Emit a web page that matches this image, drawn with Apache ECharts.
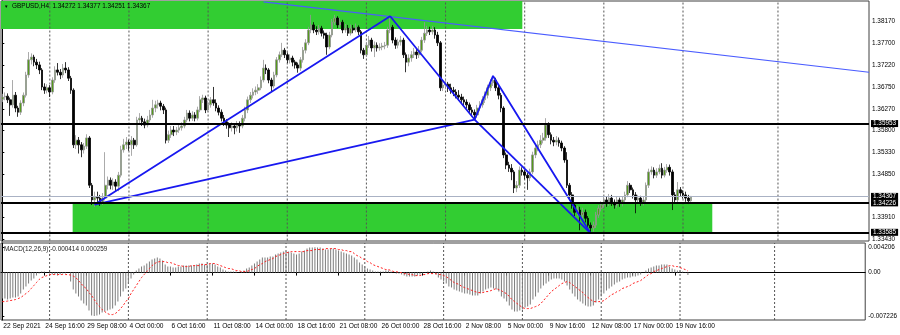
<!DOCTYPE html>
<html><head><meta charset="utf-8">
<script src="https://cdn.jsdelivr.net/npm/echarts@6/dist/echarts.min.js"></script>
<style>html,body{margin:0;padding:0;background:#fff}#c{width:900px;height:335px}</style>
</head><body><div id="c"></div><script>
// ---- data (GBPUSD H4, one value per bar) ----
const opens=[1.3648,1.3653,1.3655,1.3647,1.3636,1.3657,1.3629,1.3620,1.3640,1.3657,
1.3701,1.3734,1.3740,1.3729,1.3723,1.3712,1.3675,1.3668,1.3673,1.3664,
1.3690,1.3712,1.3707,1.3701,1.3716,1.3712,1.3694,1.3668,1.3549,1.3559,
1.3549,1.3538,1.3546,1.3564,1.3461,1.3429,1.3435,1.3433,1.3424,1.3433,
1.3461,1.3472,1.3461,1.3468,1.3459,1.3483,1.3538,1.3549,1.3555,1.3549,
1.3559,1.3549,1.3603,1.3607,1.3599,1.3592,1.3603,1.3614,1.3629,1.3636,
1.3640,1.3633,1.3625,1.3559,1.3571,1.3581,1.3577,1.3581,1.3586,1.3590,
1.3603,1.3618,1.3607,1.3614,1.3607,1.3625,1.3647,1.3651,1.3625,1.3636,
1.3647,1.3640,1.3629,1.3620,1.3607,1.3599,1.3592,1.3586,1.3590,1.3586,
1.3594,1.3590,1.3607,1.3625,1.3647,1.3657,1.3664,1.3668,1.3673,1.3690,
1.3716,1.3712,1.3690,1.3677,1.3701,1.3734,1.3745,1.3755,1.3745,1.3734,
1.3738,1.3729,1.3723,1.3716,1.3734,1.3755,1.3771,1.3799,1.3810,1.3799,
1.3795,1.3803,1.3792,1.3788,1.3762,1.3788,1.3816,1.3825,1.3810,1.3816,
1.3799,1.3803,1.3792,1.3803,1.3799,1.3805,1.3795,1.3755,1.3745,1.3766,
1.3777,1.3760,1.3766,1.3760,1.3762,1.3764,1.3766,1.3799,1.3805,1.3777,
1.3766,1.3773,1.3777,1.3745,1.3729,1.3738,1.3745,1.3751,1.3745,1.3755,
1.3777,1.3792,1.3799,1.3795,1.3799,1.3788,1.3771,1.3673,1.3679,1.3681,
1.3673,1.3668,1.3664,1.3657,1.3653,1.3647,1.3642,1.3636,1.3625,1.3620,
1.3614,1.3629,1.3636,1.3647,1.3657,1.3673,1.3684,1.3690,1.3673,1.3657,
1.3629,1.3527,1.3505,1.3498,1.3490,1.3455,1.3461,1.3494,1.3490,1.3483,
1.3477,1.3490,1.3527,1.3542,1.3549,1.3559,1.3564,1.3592,1.3571,1.3559,
1.3555,1.3559,1.3553,1.3542,1.3516,1.3461,1.3440,1.3418,1.3402,1.3407,
1.3396,1.3402,1.3389,1.3374,1.3368,1.3374,1.3396,1.3411,1.3418,1.3429,
1.3422,1.3433,1.3424,1.3418,1.3429,1.3422,1.3429,1.3440,1.3461,1.3451,
1.3440,1.3429,1.3433,1.3424,1.3429,1.3461,1.3490,1.3494,1.3483,1.3490,
1.3498,1.3483,1.3494,1.3500,1.3490,1.3440,1.3429,1.3451,1.3444,1.3440,
1.3433,1.34272];
const closes=[1.3653,1.3655,1.3647,1.3636,1.3657,1.3629,1.3620,1.3640,1.3657,1.3701,
1.3734,1.3740,1.3729,1.3723,1.3712,1.3675,1.3668,1.3673,1.3664,1.3690,
1.3712,1.3707,1.3701,1.3716,1.3712,1.3694,1.3668,1.3549,1.3559,1.3549,
1.3538,1.3546,1.3564,1.3461,1.3429,1.3435,1.3433,1.3424,1.3433,1.3461,
1.3472,1.3461,1.3468,1.3459,1.3483,1.3538,1.3549,1.3555,1.3549,1.3559,
1.3549,1.3603,1.3607,1.3599,1.3592,1.3603,1.3614,1.3629,1.3636,1.3640,
1.3633,1.3625,1.3559,1.3571,1.3581,1.3577,1.3581,1.3586,1.3590,1.3603,
1.3618,1.3607,1.3614,1.3607,1.3625,1.3647,1.3651,1.3625,1.3636,1.3647,
1.3640,1.3629,1.3620,1.3607,1.3599,1.3592,1.3586,1.3590,1.3586,1.3594,
1.3590,1.3607,1.3625,1.3647,1.3657,1.3664,1.3668,1.3673,1.3690,1.3716,
1.3712,1.3690,1.3677,1.3701,1.3734,1.3745,1.3755,1.3745,1.3734,1.3738,
1.3729,1.3723,1.3716,1.3734,1.3755,1.3771,1.3799,1.3810,1.3799,1.3795,
1.3803,1.3792,1.3788,1.3762,1.3788,1.3816,1.3825,1.3810,1.3816,1.3799,
1.3803,1.3792,1.3803,1.3799,1.3805,1.3795,1.3755,1.3745,1.3766,1.3777,
1.3760,1.3766,1.3760,1.3762,1.3764,1.3766,1.3799,1.3805,1.3777,1.3766,
1.3773,1.3777,1.3745,1.3729,1.3738,1.3745,1.3751,1.3745,1.3755,1.3777,
1.3792,1.3799,1.3795,1.3799,1.3788,1.3771,1.3673,1.3679,1.3681,1.3673,
1.3668,1.3664,1.3657,1.3653,1.3647,1.3642,1.3636,1.3625,1.3620,1.3614,
1.3629,1.3636,1.3647,1.3657,1.3673,1.3684,1.3690,1.3673,1.3657,1.3629,
1.3527,1.3505,1.3498,1.3490,1.3455,1.3461,1.3494,1.3490,1.3483,1.3477,
1.3490,1.3527,1.3542,1.3549,1.3559,1.3564,1.3592,1.3571,1.3559,1.3555,
1.3559,1.3553,1.3542,1.3516,1.3461,1.3440,1.3418,1.3402,1.3407,1.3396,
1.3402,1.3389,1.3374,1.3368,1.3374,1.3396,1.3411,1.3418,1.3429,1.3422,
1.3433,1.3424,1.3418,1.3429,1.3422,1.3429,1.3440,1.3461,1.3451,1.3440,
1.3429,1.3433,1.3424,1.3429,1.3461,1.3490,1.3494,1.3483,1.3490,1.3498,
1.3483,1.3494,1.3500,1.3490,1.3440,1.3429,1.3451,1.3444,1.3440,1.3433,
1.3427,1.34367];
const highs=[1.3660,1.3663,1.3661,1.3652,1.3690,1.3664,1.3634,1.3646,1.3663,1.3708,
1.3751,1.3748,1.3745,1.3736,1.3730,1.3716,1.3683,1.3681,1.3679,1.3696,
1.3720,1.3727,1.3714,1.3725,1.3729,1.3718,1.3699,1.3672,1.3570,1.3566,
1.3555,1.3553,1.3572,1.3568,1.3466,1.3447,1.3447,1.3440,1.3444,1.3533,
1.3480,1.3478,1.3476,1.3474,1.3490,1.3547,1.3562,1.3566,1.3560,1.3568,
1.3564,1.3610,1.3618,1.3612,1.3606,1.3612,1.3625,1.3647,1.3645,1.3647,
1.3645,1.3638,1.3630,1.3580,1.3590,1.3590,1.3588,1.3594,1.3598,1.3610,
1.3625,1.3624,1.3622,1.3620,1.3632,1.3655,1.3658,1.3656,1.3645,1.3653,
1.3675,1.3648,1.3635,1.3626,1.3614,1.3605,1.3598,1.3598,1.3596,1.3601,
1.3600,1.3614,1.3632,1.3654,1.3664,1.3672,1.3676,1.3681,1.3698,1.3734,
1.3724,1.3716,1.3695,1.3708,1.3740,1.3752,1.3771,1.3760,1.3750,1.3746,
1.3743,1.3734,1.3728,1.3740,1.3762,1.3779,1.3806,1.3832,1.3816,1.3807,
1.3810,1.3808,1.3798,1.3793,1.3795,1.3823,1.3832,1.3829,1.3825,1.3821,
1.3812,1.3810,1.3811,1.3810,1.3813,1.3809,1.3799,1.3760,1.3773,1.3786,
1.3782,1.3774,1.3772,1.3770,1.3771,1.3773,1.3806,1.3829,1.3810,1.3783,
1.3780,1.3786,1.3782,1.3750,1.3746,1.3753,1.3760,1.3758,1.3764,1.3784,
1.3816,1.3808,1.3806,1.3808,1.3805,1.3795,1.3775,1.3690,1.3692,1.3686,
1.3682,1.3675,1.3670,1.3668,1.3660,1.3654,1.3648,1.3641,1.3631,1.3626,
1.3636,1.3644,1.3655,1.3665,1.3680,1.3692,1.3699,1.3695,1.3678,1.3662,
1.3633,1.3532,1.3512,1.3507,1.3494,1.3470,1.3502,1.3500,1.3495,1.3488,
1.3497,1.3534,1.3550,1.3558,1.3570,1.3575,1.3607,1.3598,1.3576,1.3566,
1.3568,1.3565,1.3558,1.3546,1.3533,1.3466,1.3446,1.3424,1.3416,1.3414,
1.3412,1.3408,1.3394,1.3380,1.3382,1.3403,1.3418,1.3426,1.3437,1.3436,
1.3442,1.3440,1.3430,1.3437,1.3434,1.3437,1.3447,1.3470,1.3466,1.3456,
1.3446,1.3440,1.3438,1.3436,1.3467,1.3497,1.3502,1.3500,1.3498,1.3506,
1.3509,1.3501,1.3507,1.3506,1.3495,1.3446,1.3468,1.3457,1.3450,1.3447,
1.3440,1.34377];
const lows=[1.3642,1.3646,1.3640,1.3612,1.3630,1.3620,1.3610,1.3614,1.3633,1.3652,
1.3695,1.3724,1.3720,1.3714,1.3703,1.3668,1.3660,1.3661,1.3653,1.3659,
1.3684,1.3700,1.3692,1.3695,1.3705,1.3688,1.3660,1.3542,1.3540,1.3530,
1.3522,1.3530,1.3540,1.3455,1.3418,1.3414,1.3424,1.3416,1.3418,1.3428,
1.3452,1.3452,1.3451,1.3448,1.3448,1.3478,1.3532,1.3540,1.3536,1.3525,
1.3540,1.3545,1.3596,1.3590,1.3585,1.3587,1.3598,1.3608,1.3620,1.3628,
1.3624,1.3616,1.3552,1.3553,1.3564,1.3568,1.3570,1.3575,1.3580,1.3585,
1.3598,1.3600,1.3601,1.3600,1.3602,1.3620,1.3640,1.3618,1.3620,1.3630,
1.3634,1.3622,1.3613,1.3600,1.3590,1.3584,1.3566,1.3578,1.3572,1.3578,
1.3575,1.3585,1.3600,1.3618,1.3640,1.3650,1.3657,1.3660,1.3668,1.3685,
1.3703,1.3683,1.3666,1.3672,1.3696,1.3728,1.3740,1.3738,1.3727,1.3726,
1.3720,1.3715,1.3706,1.3710,1.3728,1.3748,1.3766,1.3792,1.3792,1.3788,
1.3789,1.3785,1.3780,1.3745,1.3757,1.3783,1.3810,1.3803,1.3804,1.3792,
1.3793,1.3786,1.3787,1.3792,1.3794,1.3788,1.3748,1.3736,1.3740,1.3760,
1.3752,1.3740,1.3752,1.3754,1.3755,1.3757,1.3760,1.3792,1.3770,1.3758,
1.3759,1.3765,1.3738,1.3707,1.3720,1.3730,1.3738,1.3736,1.3738,1.3750,
1.3771,1.3786,1.3788,1.3789,1.3780,1.3764,1.3666,1.3666,1.3670,1.3664,
1.3660,1.3655,1.3650,1.3645,1.3640,1.3635,1.3628,1.3618,1.3611,1.3604,
1.3608,1.3622,1.3630,1.3640,1.3650,1.3666,1.3677,1.3666,1.3648,1.3620,
1.3520,1.3496,1.3490,1.3472,1.3444,1.3446,1.3455,1.3482,1.3474,1.3451,
1.3470,1.3485,1.3520,1.3535,1.3542,1.3552,1.3558,1.3564,1.3550,1.3546,
1.3548,1.3545,1.3535,1.3510,1.3455,1.3432,1.3410,1.3394,1.3395,1.3363,
1.3388,1.3380,1.3365,1.3356,1.3360,1.3368,1.3390,1.3404,1.3412,1.3414,
1.3416,1.3416,1.3410,1.3412,1.3414,1.3415,1.3422,1.3435,1.3444,1.3432,
1.3400,1.3421,1.3416,1.3417,1.3424,1.3455,1.3484,1.3476,1.3477,1.3485,
1.3476,1.3478,1.3488,1.3482,1.3407,1.3421,1.3424,1.3436,1.3432,1.3425,
1.3420,1.34251];
const macd=[-0.00433,-0.00433,-0.00449,-0.00433,-0.00416,-0.00416,-0.00399,-0.00349,-0.00283,-0.00233,
-0.00183,-0.00133,-0.00100,-0.00050,-0.00017,0.00017,0.00017,0.00002,-0.00017,-0.00033,
-0.00033,-0.00050,-0.00033,-0.00017,-0.00017,0.00002,-0.00150,-0.00283,-0.00349,-0.00399,
-0.00466,-0.00516,-0.00549,-0.00632,-0.00716,-0.007226,-0.00716,-0.00699,-0.00666,-0.00649,
-0.00632,-0.00616,-0.00599,-0.00549,-0.00483,-0.00399,-0.00316,-0.00266,-0.00183,-0.00100,
-0.00033,0.00033,0.00067,0.00100,0.00116,0.00150,0.00183,0.00216,0.00233,0.00250,
0.00233,0.00200,0.00133,0.00100,0.00100,0.00083,0.00083,0.00100,0.00100,0.00116,
0.00116,0.00116,0.00116,0.00116,0.00133,0.00150,0.00150,0.00133,0.00133,0.00150,
0.00150,0.00133,0.00100,0.00083,0.00050,0.00033,0.00017,0.00017,0.00017,0.00017,
0.00003,0.00017,0.00033,0.00067,0.00083,0.00116,0.00150,0.00183,0.00216,0.00250,
0.00250,0.00250,0.00266,0.00266,0.00300,0.00316,0.00333,0.00349,0.00349,0.00349,
0.00333,0.00316,0.00300,0.00316,0.00349,0.00366,0.00399,0.00416,0.00416,0.004206,
0.00416,0.00416,0.00399,0.00383,0.00383,0.00399,0.00399,0.00383,0.00366,0.00349,
0.00333,0.00316,0.00300,0.00283,0.00250,0.00216,0.00166,0.00133,0.00100,0.00067,
0.00050,0.00033,0.00017,0.00017,0.00017,0.00017,0.00033,0.00033,0.00017,0.00003,
-0.00017,-0.00017,-0.00033,-0.00050,-0.00067,-0.00067,-0.00067,-0.00067,-0.00050,-0.00033,
-0.00017,-0.00003,0.00017,0.00033,0.00017,-0.00033,-0.00083,-0.00116,-0.00150,-0.00183,
-0.00233,-0.00250,-0.00283,-0.00300,-0.00316,-0.00333,-0.00349,-0.00349,-0.00366,-0.00383,
-0.00383,-0.00383,-0.00349,-0.00316,-0.00283,-0.00266,-0.00250,-0.00266,-0.00283,-0.00316,
-0.00399,-0.00433,-0.00483,-0.00549,-0.00616,-0.00649,-0.00649,-0.00632,-0.00616,-0.00582,
-0.00566,-0.00532,-0.00449,-0.00399,-0.00333,-0.00266,-0.00216,-0.00183,-0.00150,-0.00116,
-0.00100,-0.00100,-0.00100,-0.00116,-0.00150,-0.00216,-0.00283,-0.00349,-0.00399,-0.00449,
-0.00483,-0.00516,-0.00549,-0.00566,-0.00566,-0.00549,-0.00499,-0.00449,-0.00399,-0.00349,
-0.00300,-0.00266,-0.00233,-0.00200,-0.00166,-0.00150,-0.00116,-0.00100,-0.00083,-0.00083,
-0.00067,-0.00067,-0.00050,-0.00033,0.00003,0.00033,0.00067,0.00083,0.00100,0.00116,
0.00116,0.00133,0.00133,0.00133,0.00100,0.00067,0.00050,0.00033,0.00033,0.00017,
0.00005,-0.000414];
const signal=[-0.00483,-0.00483,-0.00474,-0.00466,-0.00458,-0.00449,-0.00433,-0.00416,-0.00383,-0.00349,
-0.00316,-0.00266,-0.00216,-0.00166,-0.00116,-0.00083,-0.00067,-0.00050,-0.00033,-0.00033,
-0.00033,-0.00033,-0.00033,-0.00033,-0.00033,-0.00033,-0.00042,-0.00058,-0.00083,-0.00133,
-0.00183,-0.00233,-0.00266,-0.00333,-0.00383,-0.00449,-0.00516,-0.00566,-0.00616,-0.00649,
-0.00682,-0.00699,-0.00699,-0.00682,-0.00649,-0.00599,-0.00549,-0.00483,-0.00433,-0.00349,
-0.00283,-0.00216,-0.00150,-0.00083,-0.00033,0.00017,0.00067,0.00116,0.00150,0.00175,
0.00183,0.00183,0.00183,0.00166,0.00166,0.00150,0.00133,0.00116,0.00116,0.00100,
0.00100,0.00100,0.00116,0.00116,0.00116,0.00116,0.00133,0.00133,0.00133,0.00150,
0.00150,0.00150,0.00133,0.00116,0.00100,0.00083,0.00067,0.00067,0.00050,0.00033,
0.00033,0.00017,0.00017,0.00017,0.00033,0.00050,0.00067,0.00100,0.00133,0.00150,
0.00183,0.00200,0.00216,0.00233,0.00266,0.00283,0.00300,0.00316,0.00333,0.00333,
0.00349,0.00349,0.00349,0.00349,0.00349,0.00349,0.00366,0.00366,0.00366,0.00383,
0.00383,0.00383,0.00383,0.00399,0.00399,0.00399,0.00399,0.00399,0.00383,0.00383,
0.00366,0.00366,0.00349,0.00349,0.00316,0.00283,0.00266,0.00233,0.00216,0.00183,
0.00166,0.00133,0.00116,0.00100,0.00083,0.00067,0.00050,0.00050,0.00033,0.00017,
0.00017,0.00000,0.00000,-0.00017,-0.00017,-0.00033,-0.00033,-0.00050,-0.00050,-0.00050,
-0.00033,-0.00033,-0.00017,-0.00017,-0.00017,-0.00017,-0.00033,-0.00033,-0.00050,-0.00067,
-0.00100,-0.00133,-0.00166,-0.00183,-0.00200,-0.00233,-0.00250,-0.00266,-0.00283,-0.00300,
-0.00316,-0.00333,-0.00333,-0.00333,-0.00316,-0.00316,-0.00300,-0.00283,-0.00266,-0.00283,
-0.00300,-0.00333,-0.00349,-0.00399,-0.00449,-0.00483,-0.00516,-0.00549,-0.00582,-0.00599,
-0.00599,-0.00599,-0.00582,-0.00566,-0.00549,-0.00516,-0.00466,-0.00416,-0.00366,-0.00316,
-0.00283,-0.00250,-0.00216,-0.00183,-0.00166,-0.00150,-0.00166,-0.00200,-0.00233,-0.00266,
-0.00300,-0.00333,-0.00383,-0.00416,-0.00449,-0.00483,-0.00483,-0.00483,-0.00483,-0.00466,
-0.00433,-0.00399,-0.00366,-0.00349,-0.00316,-0.00300,-0.00266,-0.00250,-0.00233,-0.00216,
-0.00183,-0.00166,-0.00150,-0.00133,-0.00100,-0.00067,-0.00033,-0.00017,0.00017,0.00033,
0.00050,0.00067,0.00083,0.00100,0.00116,0.00116,0.00100,0.00100,0.00083,0.00067,
0.00050,0.000259];

const xTickLabels=['22 Sep 2021','24 Sep 16:00','29 Sep 08:00','4 Oct 00:00','6 Oct 16:00','11 Oct 08:00','14 Oct 00:00','18 Oct 16:00','21 Oct 08:00','26 Oct 00:00','28 Oct 16:00','2 Nov 08:00','5 Nov 00:00','9 Nov 16:00','12 Nov 08:00','17 Nov 00:00','19 Nov 16:00'];
const priceTicks=[1.38170,1.37700,1.37220,1.36750,1.36270,1.35800,1.35330,1.34850,1.33910,1.33430];
const macdTicks=[0.004206,0,-0.007226];
const levelLines=[1.35953,1.34226,1.33585];
const bidLine=1.34367;
const weekStarts=[18,48,78,108,138,168,198,228,258,294];
const zigzag=[[35,1.3419],[147,1.3829],[179,1.3604],[186,1.3699],[223,1.3356]];
const legAC=[[35,1.3419],[179,1.3604]];
const legCE=[[179,1.3604],[223,1.3356]];
const topTrend=[[99,1.3860],[328.5,1.3707]];
const topZone=[[-0.5,1.3801],[197.1,1.38621]];
const bottomZone=[[26.66,1.33585],[269.1,1.34226]];
const headerText='GBPUSD,H4  1.34272 1.34377 1.34251 1.34367';
const macdText='MACD(12,26,9) -0.000414 0.000259';

const NBARS=329;
const PMIN=1.33396, PMAX=1.38621, MMIN=-0.007892, MMAX=0.004922;
const cats=Array.from({length:NBARS},(_,i)=>String(i));
const candles=opens.map((o,i)=>[o,closes[i],lows[i],highs[i]]);
const FONT='Liberation Sans';
const showTick=(i)=>i%16===0 && i/16<xTickLabels.length;
// weekly separators: broken vertical paths slightly inside each pane's value range
const weekPath=(lo,hi)=>weekStarts.flatMap(w=>[[w,lo],[w,hi],[w,'-']]);
const weekLine={color:'#555555',type:[2,2],width:1};
const hLabel=(v)=>({show:true,position:'end',distance:2,formatter:v.toFixed(5),color:'#fff',backgroundColor:'#000',fontSize:6.4,fontFamily:FONT,padding:[1,2,0,2]});
const hLine=(v,style)=>[{coord:[-0.5,v],lineStyle:style,label:hLabel(v)},{coord:[NBARS-0.5,v]}];

const chart=echarts.init(document.getElementById('c'),null,{renderer:'canvas'});
chart.setOption({
  animation:false,
  backgroundColor:'#fff',
  grid:[
    {left:1,right:31,top:1,height:240,show:true,borderColor:'#404040',borderWidth:1,backgroundColor:'transparent'},
    {left:1,right:31,top:243,height:77,show:true,borderColor:'#404040',borderWidth:1,backgroundColor:'transparent'}
  ],
  xAxis:[
    {type:'category',gridIndex:0,data:cats,axisLine:{show:false},axisTick:{show:false},axisLabel:{show:false},splitLine:{show:false}},
    {type:'value',gridIndex:0,min:-0.5,max:NBARS-0.5,show:false},
    {type:'category',gridIndex:1,data:cats,
      axisLine:{show:true,lineStyle:{color:'#000'}},
      axisTick:{show:true,interval:(i)=>showTick(i),alignWithLabel:true,length:3,lineStyle:{color:'#000'}},
      axisLabel:{interval:(i)=>showTick(i),formatter:(v,i)=>xTickLabels[i/16],fontSize:6.6,fontFamily:FONT,color:'#000',align:'left',margin:3,padding:[0,0,0,1]},
      splitLine:{show:false}},
    {type:'value',gridIndex:1,min:-0.5,max:NBARS-0.5,show:false}
  ],
  yAxis:[
    {type:'value',gridIndex:0,position:'right',min:PMIN,max:PMAX,
      axisLine:{show:true,lineStyle:{color:'#000'}},
      axisTick:{show:true,customValues:priceTicks,length:2,lineStyle:{color:'#000'}},
      axisLabel:{customValues:priceTicks,formatter:(v)=>v.toFixed(5),fontSize:6.4,fontFamily:FONT,color:'#000',margin:3},
      splitLine:{show:false}},
    {type:'value',gridIndex:1,position:'right',min:MMIN,max:MMAX,
      axisLine:{show:true,lineStyle:{color:'#000'}},
      axisTick:{show:true,customValues:macdTicks,length:2,lineStyle:{color:'#000'}},
      axisLabel:{customValues:macdTicks,formatter:(v)=>v===0?'0.00':v.toFixed(6),fontSize:6.4,fontFamily:FONT,color:'#000',margin:3},
      splitLine:{show:false}}
  ],
  graphic:[
    {type:'text',left:4,top:4,z:100,style:{text:'\u25BC',fontSize:4.5,fontFamily:FONT,fill:'#000'}},
    {type:'text',left:12,top:3,z:100,style:{text:headerText,fontSize:6.4,fontFamily:FONT,fill:'#000'}},
    {type:'text',left:4,top:246,z:100,style:{text:macdText,fontSize:6.4,fontFamily:FONT,fill:'#222'}}
  ],
  series:[
    {name:'zones',type:'line',xAxisIndex:1,yAxisIndex:0,data:[],z:2,silent:true,
      markArea:{silent:true,itemStyle:{color:'#32cd32',opacity:1},
        data:[[{xAxis:topZone[0][0],yAxis:topZone[0][1]},{xAxis:topZone[1][0],yAxis:topZone[1][1]}],
              [{xAxis:bottomZone[0][0],yAxis:bottomZone[0][1]},{xAxis:bottomZone[1][0],yAxis:bottomZone[1][1]}]]}},
    {name:'weeks',type:'line',xAxisIndex:1,yAxisIndex:0,data:weekPath(PMIN+0.0001,PMAX-0.0001),z:2.5,silent:true,symbol:'none',showSymbol:false,connectNulls:false,clip:false,
      lineStyle:weekLine},
    {name:'weeksMacd',type:'line',xAxisIndex:3,yAxisIndex:1,data:weekPath(MMIN,MMAX),z:1,silent:true,symbol:'none',connectNulls:false,
      lineStyle:weekLine},
    {name:'GBPUSD',type:'candlestick',xAxisIndex:0,yAxisIndex:0,data:candles,z:3,barWidth:2.2,
      itemStyle:{color:'#55991c',color0:'#000000',borderColor:'#959595',borderColor0:'#000000',borderWidth:0.8}},
    {name:'topTrend',type:'line',xAxisIndex:1,yAxisIndex:0,data:topTrend,z:4,symbol:'none',clip:true,
      lineStyle:{color:'#4a5cff',width:1.2}},
    {name:'zigzag',type:'line',xAxisIndex:1,yAxisIndex:0,data:zigzag,z:4,symbol:'none',
      lineStyle:{color:'#1818f0',width:1.8}},
    {name:'legAC',type:'line',xAxisIndex:1,yAxisIndex:0,data:legAC,z:4,symbol:'none',
      lineStyle:{color:'#1818f0',width:1.8}},
    {name:'legCE',type:'line',xAxisIndex:1,yAxisIndex:0,data:legCE,z:4,symbol:'none',
      lineStyle:{color:'#1818f0',width:1.8}},
    {name:'levels',type:'line',xAxisIndex:1,yAxisIndex:0,data:[],z:5,silent:true,
      markLine:{silent:true,symbol:'none',precision:5,
        data:[hLine(bidLine,{color:'#aab2c4',width:1,type:'solid'})].concat(
          levelLines.map(v=>hLine(v,{color:'#000',width:2,type:'solid'})))}},
    {name:'MACD',type:'bar',xAxisIndex:2,yAxisIndex:1,data:macd,barWidth:1,z:3,
      itemStyle:{color:'#7c7c7c'}},
    {name:'Signal',type:'line',xAxisIndex:2,yAxisIndex:1,data:signal,symbol:'none',z:4,
      lineStyle:{color:'#ff2020',width:1,type:[2,2]}}
  ]
});
</script></body></html>
